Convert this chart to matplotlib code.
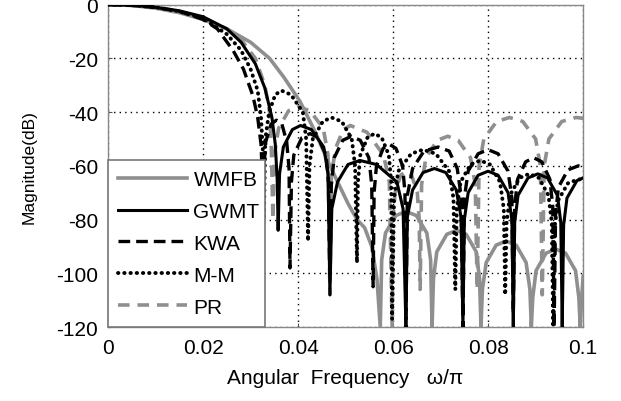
import matplotlib
matplotlib.use("Agg")
import matplotlib.pyplot as plt

plt.rcParams['font.family'] = ['Liberation Sans', 'DejaVu Sans']
plt.rcParams['axes.unicode_minus'] = False

# (normalised frequency, magnitude dB)
wmfb = [(0, 0), (0.005, -0.3), (0.01, -1.3), (0.015, -3), (0.02, -5.5), (0.025, -9),
        (0.03, -14), (0.034, -20), (0.037, -27), (0.0404, -36), (0.0435, -47),
        (0.0467, -60), (0.0505, -74), (0.0524, -80), (0.054, -83), (0.0555, -90),
        (0.0566, -102), (0.0573, -120),
        (0.0576, -95), (0.0584, -85), (0.0606, -78.5), (0.06275, -77), (0.0649, -78.5),
        (0.0671, -85), (0.0679, -95), (0.0682, -120),
        (0.0685, -102), (0.0692, -92), (0.0713, -85.5), (0.07335, -84), (0.0754, -85.5),
        (0.0775, -92), (0.0782, -102), (0.0785, -120),
        (0.0788, -106), (0.0796, -96), (0.0817, -89.5), (0.0838, -88), (0.0859, -89.5),
        (0.088, -96), (0.0888, -106), (0.0891, -120),
        (0.0894, -109), (0.0901, -99), (0.0922, -92.5), (0.09425, -91), (0.0963, -92.5),
        (0.0984, -99), (0.0991, -109), (0.0994, -120), (0.0997, -109), (0.1, -101)]

gwmt = [(0, 0), (0.005, -0.2), (0.01, -1), (0.015, -2.3), (0.02, -4.5), (0.025, -9),
        (0.028, -14), (0.031, -22), (0.033, -31), (0.0345, -42), (0.0352, -52),
        (0.0356, -65), (0.0358, -84),
        (0.0361, -63), (0.0369, -53), (0.0388, -46.5), (0.0405, -45), (0.0428, -46.5),
        (0.0454, -53), (0.0463, -63), (0.0467, -108),
        (0.0471, -76), (0.0483, -66), (0.0505, -59.5), (0.053, -58), (0.0565, -59.5),
        (0.0608, -66), (0.0621, -76), (0.0627, -120),
        (0.063, -79), (0.0641, -69), (0.0663, -62.5), (0.0687, -61), (0.0711, -62.5),
        (0.0733, -69), (0.0743, -79), (0.0747, -120),
        (0.075, -80), (0.0758, -70), (0.0779, -63.5), (0.08, -62), (0.0821, -63.5),
        (0.0842, -70), (0.085, -80), (0.0853, -120),
        (0.0856, -81), (0.0863, -71), (0.0884, -64.5), (0.09045, -63), (0.0925, -64.5),
        (0.0946, -71), (0.0953, -81), (0.0956, -120),
        (0.0959, -82), (0.0966, -72), (0.0987, -65.5), (0.1, -64.5)]

kwa = [(0, 0), (0.005, -0.3), (0.01, -1), (0.015, -2.5), (0.02, -5.5), (0.023, -9),
       (0.0263, -17), (0.0285, -24), (0.0305, -34), (0.0315, -42), (0.0322, -52),
       (0.0326, -70),
       (0.0328, -61), (0.0332, -51), (0.0343, -44.5), (0.03545, -43), (0.0366, -44.5),
       (0.0376, -51), (0.0381, -61), (0.0383, -98),
       (0.0386, -66), (0.0391, -56), (0.0408, -49.5), (0.0425, -48), (0.0442, -49.5),
       (0.0459, -56), (0.0464, -66), (0.0467, -100),
       (0.047, -67), (0.0476, -57), (0.0494, -50.5), (0.0512, -49), (0.0531, -50.5),
       (0.0549, -57), (0.0555, -67), (0.0558, -105),
       (0.056, -70), (0.0565, -60), (0.0579, -53.5), (0.05925, -52), (0.0606, -53.5),
       (0.062, -60), (0.0625, -70), (0.0627, -120),
       (0.063, -71), (0.0641, -61), (0.0665, -54.5), (0.0695, -53), (0.0718, -54.5),
       (0.0735, -61), (0.0743, -71), (0.0747, -120),
       (0.075, -72), (0.0758, -62), (0.0779, -55.5), (0.08, -54), (0.0821, -55.5),
       (0.0842, -62), (0.085, -72), (0.0853, -115),
       (0.0856, -75), (0.0862, -65), (0.0879, -58.5), (0.0896, -57), (0.0913, -58.5),
       (0.093, -65), (0.0936, -75), (0.0939, -120),
       (0.0942, -78), (0.0948, -68), (0.0968, -61.5), (0.099, -60), (0.1, -60.3)]

mm = [(0, 0), (0.005, -0.2), (0.01, -1), (0.015, -2.5), (0.02, -5.2), (0.025, -11),
      (0.028, -17), (0.03, -24), (0.0315, -32), (0.0322, -42), (0.0326, -55),
      (0.0328, -80),
      (0.0331, -50), (0.0339, -40), (0.0352, -33.5), (0.0365, -32), (0.0385, -33.5),
      (0.041, -40), (0.0417, -50), (0.0421, -88),
      (0.0424, -60), (0.0431, -50), (0.0452, -43.5), (0.047, -42), (0.0492, -43.5),
      (0.0513, -50), (0.052, -60), (0.0524, -96),
      (0.0526, -66), (0.0531, -56), (0.0546, -49.5), (0.0561, -48), (0.0576, -49.5),
      (0.0591, -56), (0.0596, -66), (0.0598, -117),
      (0.0602, -72), (0.0611, -62), (0.0638, -55.5), (0.0663, -54), (0.069, -55.5),
      (0.0718, -62), (0.0727, -72), (0.0731, -106),
      (0.0734, -76), (0.0742, -66), (0.0763, -59.5), (0.07835, -58), (0.0804, -59.5),
      (0.0825, -66), (0.0833, -76), (0.0836, -108),
      (0.0839, -81), (0.0846, -71), (0.0866, -64.5), (0.08865, -63), (0.0907, -64.5),
      (0.0927, -71), (0.0934, -81), (0.0937, -120),
      (0.094, -83), (0.0947, -73), (0.0968, -66.5), (0.099, -65), (0.1, -65.2)]

pr = [(0, 0), (0.005, -0.2), (0.01, -1), (0.015, -2.5), (0.02, -5), (0.025, -9),
      (0.028, -13), (0.031, -20), (0.033, -30), (0.034, -40), (0.0344, -55),
      (0.0347, -80),
      (0.035, -56), (0.0359, -46), (0.038, -39.5), (0.04, -38), (0.0425, -39.5),
      (0.0453, -46), (0.0463, -56), (0.0467, -108),
      (0.047, -63), (0.048, -53), (0.0495, -46.5), (0.051, -45), (0.0545, -47.5),
      (0.058, -56), (0.0592, -66), (0.0598, -120),
      (0.06, -80), (0.0604, -70), (0.0616, -63.5), (0.06275, -62), (0.0639, -63.5),
      (0.0651, -70), (0.0655, -80), (0.0657, -106),
      (0.066, -67), (0.0669, -57), (0.0693, -50.5), (0.0715, -49), (0.0737, -50.5),
      (0.0763, -57), (0.0773, -67), (0.0777, -106),
      (0.0781, -60), (0.0791, -50), (0.0818, -43.5), (0.0845, -42), (0.0873, -43.5),
      (0.09, -50), (0.091, -60), (0.0914, -108),
      (0.0918, -60), (0.0928, -50), (0.0955, -43.5), (0.0985, -42), (0.1, -42.3)]

names = ['WMFB', 'GWMT', 'KWA', 'M-M', 'PR']
xticks = [0, 0.02, 0.04, 0.06, 0.08, 0.1]
xticklabels = ['0', '0.02', '0.04', '0.06', '0.08', '0.1']
yticks = [0, -20, -40, -60, -80, -100, -120]

gray = '#8f8f8f'

fig = plt.figure(figsize=(6.21, 4.02), dpi=100)
ax = fig.add_axes([0.174, 0.184, 0.765, 0.802])

def xy(pts):
    return [p[0] for p in pts], [p[1] for p in pts]

x, y = xy(wmfb)
ax.plot(x, y, color=gray, lw=2.6, label=names[0], zorder=3)
x, y = xy(gwmt)
ax.plot(x, y, color='k', lw=2.2, label=names[1], zorder=4)
x, y = xy(kwa)
ax.plot(x, y, color='k', lw=2.4, ls=(0, (3.5, 1.8)), label=names[2], zorder=4)
x, y = xy(mm)
ax.plot(x, y, color='k', lw=2.8, ls=(0, (0.1, 1.5)), dash_capstyle='round',
        label=names[3], zorder=4)
x, y = xy(pr)
ax.plot(x, y, color=gray, lw=2.6, ls=(0, (3.2, 2.2)), label=names[4], zorder=3)

ax.set_xlim(0, 0.1)
ax.set_ylim(-120, 0)
ax.set_xticks(xticks)
ax.set_xticklabels(xticklabels)
ax.set_yticks(yticks)
ax.tick_params(direction='in', length=3, labelsize=15, color='#555555')
ax.tick_params(axis='x', pad=8)
ax.tick_params(axis='y', pad=7)
ax.grid(True, color='k', ls=(0, (1, 3)), lw=1.0, zorder=1)
for s in ax.spines.values():
    s.set_color('#888888')
    s.set_linewidth(1.0)

ax.set_xlabel('Angular  Frequency   \u03c9/\u03c0', fontsize=15, labelpad=8)
ax.set_ylabel('Magnitude(dB)', fontsize=12.5, labelpad=14)

leg = ax.legend(loc='lower left', bbox_to_anchor=(0, 0, 0.33, 0.535), mode='expand',
                borderaxespad=0, fontsize=15, handlelength=3.3, handletextpad=0.3,
                labelspacing=0.62, borderpad=0.5, fancybox=False, framealpha=1,
                edgecolor='#777777')
leg.get_frame().set_linewidth(1.2)
leg.set_zorder(10)

fig.savefig('out.png', dpi=100)
